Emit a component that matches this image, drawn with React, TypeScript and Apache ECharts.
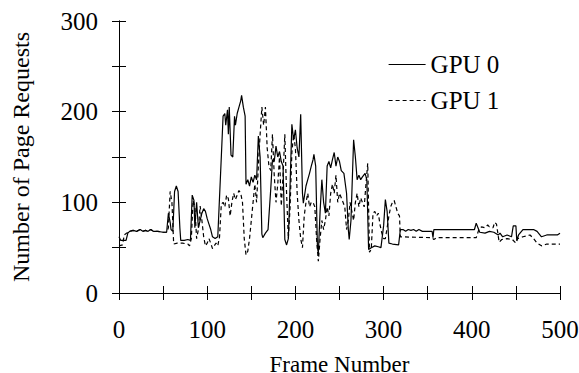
import React, { useEffect, useRef } from "react";
import * as echarts from "echarts";

const xTickLabels = ["0", "100", "200", "300", "400", "500"];
const yTickLabels = ["0", "100", "200", "300"];

const gpu0Frames = [
  0, 2, 8, 10, 12, 16, 20, 24, 27, 30, 33, 36, 39, 44, 50, 54, 56, 58, 59, 61, 63, 65, 67, 69, 70, 74, 78, 81,
  83, 85, 86, 88, 90, 92, 94, 96, 98, 100, 102, 104, 106, 109, 112, 114, 116, 118, 120, 121, 123, 124, 125, 127,
  129, 131, 132, 134, 136, 138, 139, 141, 143, 144, 146, 148, 150, 152, 154, 156, 158, 160, 162, 163, 166, 169,
  172, 174, 176, 178, 180, 182, 184, 186, 188, 190, 192, 194, 196, 198, 200, 202, 204, 206, 208, 209, 212, 214,
  216, 218, 220, 221, 223, 225, 226, 228, 230, 232, 234, 236, 238, 240, 242, 244, 246, 248, 250, 252, 255, 258,
  260, 261, 263, 266, 268, 270, 272, 274, 276, 279, 281, 283, 286, 290, 294, 297, 300, 302, 304, 306, 310, 317,
  319, 322, 325, 328, 331, 334, 337, 340, 344, 355, 356, 357, 403, 405, 407, 409, 415, 420, 425, 430, 432, 435,
  440, 445, 447, 450, 451, 453, 458, 470, 474, 479, 485, 497, 500,
];
const gpu0Values = [
  62, 58, 58, 66, 68, 69, 68, 70, 68, 69, 68, 70, 68, 68, 67, 67, 88, 78, 70, 68, 112, 118, 112, 72, 58, 58, 59, 58,
  108, 102, 72, 100, 72, 80, 88, 93, 90, 82, 76, 70, 62, 60, 62, 106, 150, 195, 198, 185, 202, 175, 205, 152,
  150, 195, 185, 198, 205, 212, 218, 205, 195, 120, 125, 118, 128, 122, 130, 125, 173, 150, 65, 61, 66, 70,
  114, 147, 145, 162, 150, 156, 145, 140, 59, 53, 60, 120, 186, 169, 180, 160, 150, 197, 110, 99, 118, 125,
  132, 140, 147, 153, 140, 50, 44, 90, 125, 100, 88, 140, 145, 138, 147, 155, 140, 150, 145, 135, 132, 110,
  70, 59, 80, 169, 150, 125, 130, 125, 128, 132, 125, 48, 50, 52, 51, 50, 74, 103, 90, 55, 54, 53,
  70, 70, 68, 70, 69, 70, 68, 70, 68, 68, 61, 70, 70, 77, 72, 67, 66, 68, 67, 64, 66, 62,
  64, 62, 74, 74, 58, 64, 70, 70, 68, 62, 64, 64, 66,
];

const gpu1Frames = [
  0, 4, 6, 10, 12, 16, 20, 24, 27, 30, 33, 36, 39, 44, 50, 54, 56, 58, 60, 62, 66, 72, 78, 80, 82, 84, 86, 88, 90,
  92, 94, 96, 98, 100, 102, 104, 106, 108, 110, 112, 114, 116, 118, 120, 122, 124, 126, 128, 130, 132, 134, 136,
  138, 140, 142, 144, 146, 148, 150, 152, 154, 156, 158, 160, 162, 164, 166, 168, 170, 172, 174, 176, 178, 180,
  182, 184, 186, 188, 190, 192, 194, 196, 198, 200, 202, 204, 206, 208, 210, 212, 214, 216, 218, 220, 222, 224,
  226, 228, 230, 232, 234, 236, 238, 240, 242, 244, 246, 248, 250, 252, 254, 256, 258, 260, 262, 264, 266, 268,
  270, 272, 274, 276, 278, 280, 282, 284, 286, 288, 290, 292, 294, 296, 298, 300, 302, 304, 306, 308, 310, 312,
  314, 316, 318, 319, 355, 357, 360, 405, 408, 411, 415, 418, 420, 424, 426, 428, 431, 434, 440, 446, 450, 452,
  458, 462, 466, 470, 474, 479, 485, 500,
];
const gpu1Values = [
  52, 53, 64, 67, 68, 69, 68, 70, 68, 69, 68, 70, 68, 68, 67, 67, 72, 112, 100, 54, 55, 55, 54, 52, 60, 102, 95, 60, 70,
  96, 80, 62, 52, 55, 60, 55, 49, 52, 55, 52, 62, 98, 100, 95, 108, 104, 85, 100, 110, 103, 108, 113,
  110, 100, 60, 42, 46, 60, 80, 100, 120, 100, 140, 175, 205, 185, 205, 160, 140, 135, 175, 130, 100, 120,
  150, 96, 130, 175, 110, 60, 95, 155, 175, 160, 110, 80, 60, 50, 85, 100, 110, 95, 100, 100, 95, 60,
  35, 60, 80, 70, 80, 95, 85, 110, 120, 110, 130, 100, 110, 105, 100, 95, 70, 80, 100, 90, 80, 100,
  110, 95, 105, 100, 95, 120, 143, 45, 48, 88, 90, 85, 88, 75, 66, 60, 60, 72, 85, 95, 100, 102,
  95, 88, 85, 62, 61, 59, 61, 61, 70, 73, 72, 75, 73, 72, 78, 76, 56, 59, 60, 59, 55, 60,
  62, 63, 64, 60, 55, 52, 54, 54,
];

const FONT = "Liberation Serif";

export default function App() {
  const ref = useRef<HTMLDivElement>(null);
  useEffect(() => {
    if (!ref.current) return;
    const chart = echarts.init(ref.current, null, { renderer: "svg" });
    const pairs = (f: number[], v: number[]) => f.map((x, i) => [x, v[i]]);
    const xLabel = (val: number) => (val % 100 === 0 ? xTickLabels[val / 100] ?? "" : "");
    const yLabel = (val: number) => (val % 100 === 0 ? yTickLabels[val / 100] ?? "" : "");
    const mkLine = () => ({ show: true, lineStyle: { color: "#000", width: 1 } });
    const mkTick = () => ({ show: true, inside: true, length: 7, lineStyle: { color: "#000", width: 1 } });
    chart.setOption({
      animation: false,
      textStyle: { fontFamily: FONT },
      grid: { left: 119, right: 19, top: 21, bottom: 80, outerBoundsMode: "none" },
      legend: {
        orient: "vertical",
        left: 383,
        top: 47,
        itemWidth: 37,
        itemHeight: 14,
        itemGap: 11,
        itemStyle: { opacity: 0 },
        textStyle: { fontFamily: FONT, fontSize: 25, color: "#000" },
        data: [
          { name: "GPU 0", lineStyle: { type: "solid", width: 1.2 } },
          { name: "GPU 1", lineStyle: { type: [4, 3], width: 1.2 } },
        ],
      },
      xAxis: [
        {
          type: "value",
          min: 0,
          max: 500,
          interval: 50,
          axisLine: mkLine(),
          axisTick: mkTick(),
          splitLine: { show: false },
          axisLabel: { formatter: xLabel, fontFamily: FONT, fontSize: 25, color: "#000", margin: 24 },
          name: "Frame Number",
          nameLocation: "middle",
          nameGap: 60,
          nameTextStyle: { fontFamily: FONT, fontSize: 23, color: "#000" },
        },
        {
          type: "value",
          position: "top",
          min: 0,
          max: 500,
          interval: 50,
          axisLine: mkLine(),
          axisTick: mkTick(),
          splitLine: { show: false },
          axisLabel: { show: false },
        },
      ],
      yAxis: [
        {
          type: "value",
          min: 0,
          max: 300,
          interval: 50,
          axisLine: mkLine(),
          axisTick: mkTick(),
          splitLine: { show: false },
          axisLabel: { formatter: yLabel, fontFamily: FONT, fontSize: 25, color: "#000", margin: 21 },
          name: "Number of Page Requests",
          nameLocation: "middle",
          nameGap: 86,
          nameTextStyle: { fontFamily: FONT, fontSize: 24, color: "#000" },
        },
        {
          type: "value",
          position: "right",
          min: 0,
          max: 300,
          interval: 50,
          axisLine: mkLine(),
          axisTick: mkTick(),
          splitLine: { show: false },
          axisLabel: { show: false },
        },
      ],
      series: [
        {
          name: "GPU 0",
          type: "line",
          data: pairs(gpu0Frames, gpu0Values),
          showSymbol: false,
          symbol: "none",
          lineStyle: { color: "#000", width: 1.2, type: "solid" },
          itemStyle: { color: "#000" },
        },
        {
          name: "GPU 1",
          type: "line",
          data: pairs(gpu1Frames, gpu1Values),
          showSymbol: false,
          symbol: "none",
          lineStyle: { color: "#000", width: 1.2, type: [4, 3] },
          itemStyle: { color: "#000" },
        },
      ],
    });
    return () => chart.dispose();
  }, []);
  return <div ref={ref} style={{ position: "absolute", left: 0, top: 0, width: 579, height: 373 }} />;
}
